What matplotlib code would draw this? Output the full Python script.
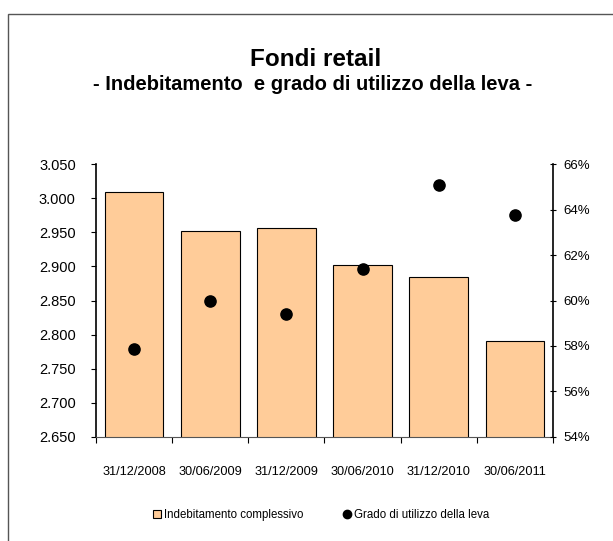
import matplotlib
matplotlib.use("Agg")
import matplotlib.pyplot as plt
from matplotlib.patches import Rectangle
from matplotlib.lines import Line2D
from matplotlib.ticker import FuncFormatter, FixedLocator
import numpy as np

plt.rcParams['font.family'] = ['Liberation Sans', 'DejaVu Sans']

categories = ["31/12/2008", "30/06/2009", "31/12/2009", "30/06/2010", "31/12/2010", "30/06/2011"]
indebitamento = [3.009, 2.952, 2.956, 2.902, 2.885, 2.790]
leva = [57.85, 60.0, 59.4, 61.4, 65.1, 63.75]

W, H = 613, 541
fig = plt.figure(figsize=(W/100, H/100), dpi=100)
fig.patch.set_facecolor('white')

# outer frame
fig.add_artist(Rectangle((8/W, -0.01), 1.0, 1 - 14/H + 0.01, transform=fig.transFigure,
                         fill=False, edgecolor='#555555', linewidth=1.0))

left, right = 96/W, 553/W
bottom, top = 1 - 436.7/H, 1 - 164.3/H
ax = fig.add_axes([left, bottom, right - left, top - bottom])
x = np.arange(len(categories))
ax.bar(x, indebitamento, width=0.77, color='#FFCC99', edgecolor='black', linewidth=0.8, zorder=2)
ax.set_xlim(-0.5, len(categories) - 0.5)
ax.set_ylim(2.650, 3.050)
ax.set_yticks(np.arange(2.650, 3.0501, 0.05))
ax.yaxis.set_major_formatter(FuncFormatter(lambda v, p: f"{v:.3f}"))
ax.xaxis.set_major_locator(FixedLocator(x))
ax.set_xticklabels(categories, fontsize=9.2)
ax.tick_params(axis='x', length=0, pad=21)
ax.xaxis.set_minor_locator(FixedLocator(np.arange(-0.5, len(categories), 1.0)))
ax.tick_params(axis='x', which='minor', length=4, direction='out', width=0.8)
ax.tick_params(axis='y', labelsize=10.5, length=3.6, direction='out', width=0.8, pad=11)
for s in ['top', 'right']:
    ax.spines[s].set_visible(False)
ax.spines['left'].set_linewidth(1.2)
ax.spines['bottom'].set_linewidth(0.8)
ax.spines['bottom'].set_color('#555555')

ax2 = ax.twinx()
ax2.scatter(x, leva, s=65, color='black', zorder=5)
ax2.set_ylim(54, 66)
ax2.set_yticks(np.arange(54, 66.1, 2))
ax2.yaxis.set_major_formatter(FuncFormatter(lambda v, p: f"{v:.0f}%"))
ax2.tick_params(axis='y', labelsize=9.5, length=5, direction='inout', width=0.8, pad=5)
for s in ['top', 'left', 'bottom']:
    ax2.spines[s].set_visible(False)
ax2.spines['right'].set_linewidth(1.2)

fig.text(316/W, 1 - 60/H, "Fondi retail", ha='center', va='center', fontsize=17.5, fontweight='bold')
fig.text(313/W, 1 - 85/H, "- Indebitamento  e grado di utilizzo della leva -", ha='center', va='center',
         fontsize=14.5, fontweight='bold')

handles = [Rectangle((0, 0), 1, 1, facecolor='#FFCC99', edgecolor='black', linewidth=0.8),
           Line2D([], [], marker='o', color='black', linestyle='None', markersize=6)]
fig.legend(handles, ["Indebitamento complessivo", "Grado di utilizzo della leva"],
           loc='center', bbox_to_anchor=(321/W, 1 - 515/H), ncol=2, frameon=False,
           fontsize=8.3, handlelength=0.7, handleheight=0.7, handletextpad=0.2, columnspacing=3.5)

fig.savefig("out.png", dpi=100)
